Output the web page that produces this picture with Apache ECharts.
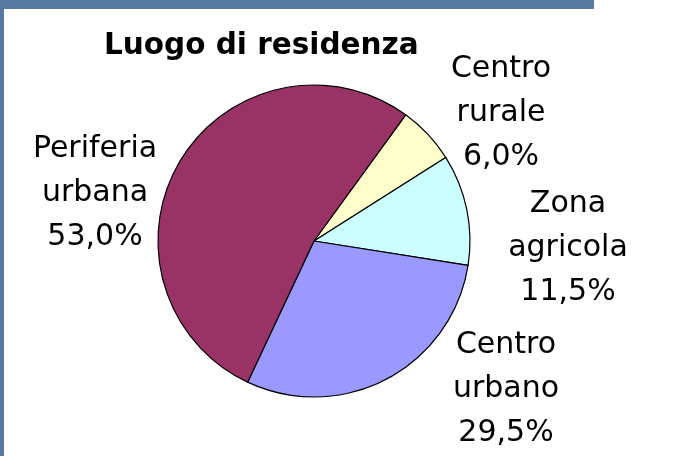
<!DOCTYPE html>
<html>
<head>
<meta charset="utf-8"/>
<title>Luogo di residenza</title>
<script src="https://cdn.jsdelivr.net/npm/echarts@6/dist/echarts.min.js"></script>
<style>
  html, body { margin: 0; padding: 0; background: #fff; }
  #page { position: relative; width: 679px; height: 456px; overflow: hidden; }
  .blue { position: absolute; background: #587aa2; }
  #container { position: absolute; left: 0; top: 0; width: 679px; height: 456px; }
</style>
</head>
<body>
<div id="page">
  <div class="blue" style="left:0;top:0;width:594px;height:9px"></div>
  <div class="blue" style="left:0;top:0;width:4px;height:456px"></div>
  <div id="container"></div>
</div>
<script type="text/javascript">
    // dati del grafico
    var categories = ['Centro rurale', 'Zona agricola', 'Centro urbano', 'Periferia urbana'];
    var labelNames = ['Centro\nrurale', 'Zona\nagricola', 'Centro\nurbano', 'Periferia\nurbana'];
    var values = [6.0, 11.5, 29.5, 53.0];
    var colors = ['#ffffcc', '#ccffff', '#9999ff', '#993366'];

    // posizione del centro delle etichette (come nel grafico Excel)
    var labelPos = [[501, 113], [568, 248], [506, 389], [95, 193]];

    var myChart = echarts.init(document.getElementById('container'));

    var pieData = [];
    for (var i = 0; i < categories.length; i++) {
        pieData.push({
            name: categories[i],
            value: values[i],
            itemStyle: { color: colors[i] }
        });
    }

    var option = {
        animation: false,
        title: {
            text: 'Luogo di residenza',
            left: 104,
            top: 31,
            padding: 0,
            textStyle: {
                fontFamily: 'DejaVu Sans',
                fontWeight: 'bold',
                fontSize: 29.5,
                color: '#000'
            }
        },
        series: [{
            type: 'pie',
            center: [314, 241],
            radius: 156,
            startAngle: 54,
            clockwise: true,
            avoidLabelOverlap: false,
            itemStyle: {
                borderColor: '#000',
                borderWidth: 1.2
            },
            label: {
                show: true,
                position: 'outside',
                fontFamily: 'DejaVu Sans',
                fontSize: 30,
                lineHeight: 44,
                color: '#000',
                align: 'center',
                formatter: function (p) {
                    return labelNames[p.dataIndex] + '\n' + p.value.toFixed(1).replace('.', ',') + '%';
                }
            },
            labelLine: { show: false },
            labelLayout: function (params) {
                var pos = labelPos[params.dataIndex];
                return {
                    x: pos[0],
                    y: pos[1],
                    align: 'center',
                    verticalAlign: 'middle'
                };
            },
            data: pieData
        }]
    };

    myChart.setOption(option);
</script>
</body>
</html>
